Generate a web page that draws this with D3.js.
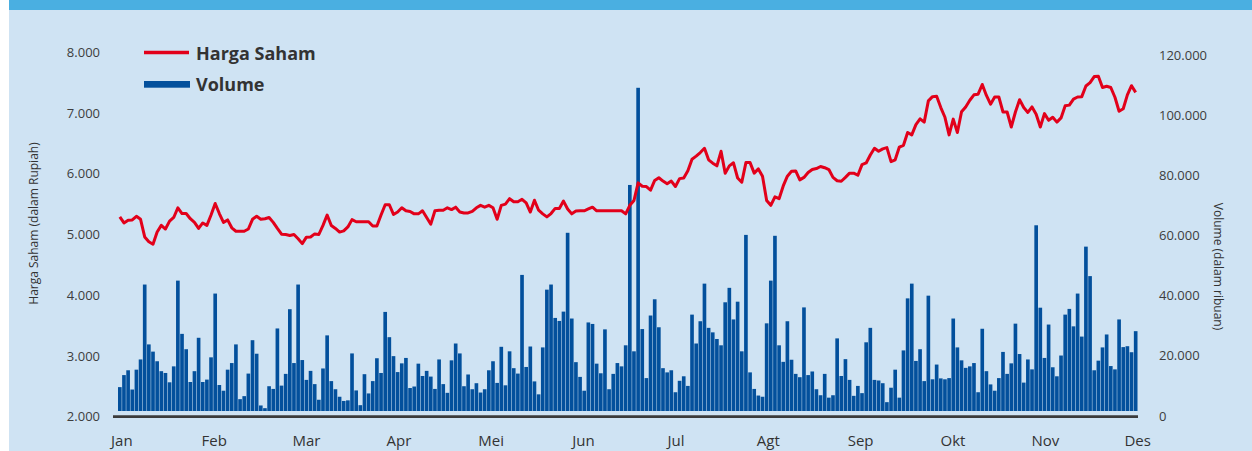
<!DOCTYPE html>
<html>
<head>
<meta charset="utf-8">
<script src="https://cdn.jsdelivr.net/npm/d3@7"></script>
<style>
  body { margin: 0; background: #ffffff; }
  text { font-family: "Open Sans", "DejaVu Sans", sans-serif; }
</style>
</head>
<body>
<div id="chart"></div>
<script>
// data: one price point and one volume bar per trading day

var months = ["Jan", "Feb", "Mar", "Apr", "Mei", "Jun", "Jul", "Agt", "Sep", "Okt", "Nov", "Des"];

// volume, in thousands of the right axis unit
var volume = [
  9.6,13.6,15.2,8.8,15.4,18.8,43.7,23.8,21.4,18.2,14.9,14.3,11.2,16.5,45.0,27.3,22.2,11.3,14.9,26.0,11.3,12.1,19.5,40.7,10.3,8.4,
  15.4,17.6,23.8,5.6,6.6,14.1,25.2,20.7,3.5,2.6,9.9,9.0,29.1,10.1,14.0,35.5,17.6,43.7,18.6,12.0,15.0,10.6,5.4,15.8,26.8,11.6,8.9,6.4,
  5.0,5.2,20.8,8.5,3.6,13.9,7.5,11.6,19.2,14.3,34.6,26.2,19.9,14.6,17.5,19.3,9.3,9.8,17.4,13.3,15.0,13.1,9.0,18.8,10.6,7.7,18.5,
  24.1,20.8,9.9,13.8,8.9,10.9,7.8,8.9,15.2,18.2,11.0,23.0,10.2,21.5,15.9,14.1,46.9,16.3,23.1,11.5,7.2,22.8,42.0,43.7,32.6,31.6,34.7,60.9,
  32.4,17.9,13.0,8.4,31.1,30.6,17.4,14.2,28.8,8.9,14.0,17.6,16.5,23.5,76.8,21.5,109.1,28.9,12.6,33.4,38.8,29.5,15.9,14.5,15.2,7.9,11.7,
  13.2,10.0,33.7,24.1,31.5,44.0,29.3,27.8,25.6,23.5,37.8,42.6,32.1,38.0,21.5,60.2,14.5,9.0,6.8,6.4,30.8,45.0,59.9,23.5,18.0,31.5,18.7,14.0,
  12.9,36.1,13.6,14.8,8.9,6.9,14.0,6.1,6.9,25.8,13.3,18.9,12.0,6.7,10.0,7.6,24.5,29.3,12.0,11.8,10.9,4.6,9.4,15.4,6.1,21.8,39.1,44.0,
  18.3,22.2,11.6,40.0,12.2,17.1,12.5,12.2,12.6,32.4,22.8,18.5,16.0,16.5,17.6,7.9,29.0,14.9,10.5,8.4,12.6,21.3,14.0,17.5,30.7,20.6,11.1,
  18.8,15.5,63.4,36.0,19.3,30.4,16.2,13.2,20.1,33.7,35.6,29.8,40.7,26.4,56.3,46.5,15.2,18.4,22.8,27.1,16.6,15.5,32.1,22.9,23.2,21.2,28.2
];

// share price in Rupiah
var price = [
  5290,5190,5235,5240,5300,5250,4960,4880,4840,5040,5150,5090,5220,5280,5440,5345,5345,5260,5200,5100,5190,5150,5320,5510,5345,5200,5240,
  5110,5054,5054,5054,5090,5250,5300,5250,5260,5280,5200,5100,5005,5000,4985,5000,4930,4850,4956,4960,5010,5000,5150,5320,5148,5100,5040,
  5060,5125,5245,5210,5210,5210,5210,5140,5140,5320,5490,5490,5330,5370,5440,5390,5380,5340,5340,5390,5280,5170,5390,5400,5400,5440,5410,
  5450,5370,5355,5355,5380,5440,5480,5450,5480,5440,5250,5480,5500,5590,5540,5540,5580,5520,5370,5564,5400,5340,5290,5345,5430,5430,5550,5420,
  5340,5385,5390,5390,5420,5450,5390,5390,5390,5390,5390,5390,5390,5340,5480,5560,5850,5795,5790,5730,5890,5935,5880,5835,5880,5790,5920,
  5930,6050,6240,6290,6350,6420,6230,6175,6130,6370,6010,6130,6180,5930,5860,6184,6184,6010,6080,5960,5560,5480,5620,5590,5800,5960,6040,6046,
  5900,5940,6020,6070,6086,6120,6100,6069,5940,5885,5877,5940,6010,6010,5975,6150,6178,6310,6420,6370,6410,6431,6200,6230,6440,6469,6680,
  6640,6810,6905,6850,7200,7270,7275,7090,6930,6640,6900,6680,7020,7100,7210,7300,7310,7470,7290,7145,7264,7264,7017,7017,6770,7017,7220,7090,
  7010,7100,6980,6770,6990,6880,6930,6850,6920,7120,7130,7230,7264,7270,7445,7500,7600,7604,7420,7440,7420,7260,7030,7070,7300,7450,7340
];

var priceTicks = [2000, 3000, 4000, 5000, 6000, 7000, 8000];
var volumeTicks = [0, 20000, 40000, 60000, 80000, 100000, 120000];

const width = 1252;
const height = 451;

// indonesian number format, dot as thousands separator
var fmt = d3.formatLocale({decimal: ",", thousands: ".", grouping: [3], currency: ["Rp", ""]}).format(",");

var svg = d3.select("#chart")
    .append("svg")
    .attr("width", width)
    .attr("height", height)

// panel background and top strip
svg.append("rect")
    .attr("x", 9).attr("y", 0)
    .attr("width", width - 9).attr("height", height)
    .attr("fill", "#cfe3f3")
svg.append("rect")
    .attr("x", 9).attr("y", 0)
    .attr("width", width - 9).attr("height", 10)
    .attr("fill", "#4aafe1")

//scales
var x = d3.scaleBand()
    .domain(d3.range(price.length))
    .range([118, 1137.5])
    .paddingInner(0.12);

var yPrice = d3.scaleLinear()
    .domain([2000, 8000])
    .range([416.7, 52.3]);

var yVol = d3.scaleLinear()
    .domain([0, 120000])
    .range([416, 55]);

var xMonth = d3.scalePoint()
    .domain(months)
    .range([x(0) + x.bandwidth() / 2 + 2, x(price.length - 1) + x.bandwidth() / 2 + 2]);

// bars sit a few pixels above the axis line
var barBase = yVol(0) - 5;

svg.append("g")
    .selectAll("rect")
    .data(volume)
    .enter()
    .append("rect")
    .attr("x", function(d, i){ return x(i); })
    .attr("y", function(d){ return yVol(d * 1000); })
    .attr("width", x.bandwidth())
    .attr("height", function(d){ return barBase - yVol(d * 1000); })
    .attr("fill", "#03509c")

// axis line
svg.append("line")
    .attr("x1", 113).attr("x2", 1138)
    .attr("y1", yPrice(2000)).attr("y2", yPrice(2000))
    .attr("stroke", "#3b3b3b")
    .attr("stroke-width", 2.8)

// price line
var line = d3.line()
    .x(function(d, i){ return x(i) + x.bandwidth() / 2; })
    .y(function(d){ return yPrice(d); });

svg.append("path")
    .datum(price)
    .attr("d", line)
    .attr("fill", "none")
    .attr("stroke", "#e2001a")
    .attr("stroke-width", 3)
    .attr("stroke-linejoin", "round")

// left ticks
svg.append("g")
    .selectAll("text")
    .data(priceTicks)
    .enter()
    .append("text")
    .attr("x", 100)
    .attr("y", function(d){ return yPrice(d); })
    .attr("dy", "0.35em")
    .attr("text-anchor", "end")
    .attr("font-size", 13)
    .attr("fill", "#3d3d3d")
    .text(function(d){ return fmt(d); })

// right ticks
svg.append("g")
    .selectAll("text")
    .data(volumeTicks)
    .enter()
    .append("text")
    .attr("x", 1159)
    .attr("y", function(d){ return yVol(d); })
    .attr("dy", "0.35em")
    .attr("font-size", 13)
    .attr("fill", "#3d3d3d")
    .text(function(d){ return fmt(d); })

// month labels
svg.append("g")
    .selectAll("text")
    .data(months)
    .enter()
    .append("text")
    .attr("x", function(d){ return xMonth(d); })
    .attr("y", 446)
    .attr("text-anchor", "middle")
    .attr("font-size", 15)
    .attr("fill", "#333333")
    .text(function(d){ return d; })

// axis titles
svg.append("text")
    .attr("transform", "translate(38,223.5) rotate(-90)")
    .attr("text-anchor", "middle")
    .attr("font-size", 12)
    .attr("fill", "#333333")
    .text("Harga Saham (dalam Rupiah)")

svg.append("text")
    .attr("transform", "translate(1214,266.5) rotate(90)")
    .attr("text-anchor", "middle")
    .attr("font-size", 12)
    .attr("fill", "#333333")
    .text("Volume (dalam ribuan)")

// legend
var legend = svg.append("g");
legend.append("line")
    .attr("x1", 144).attr("x2", 189)
    .attr("y1", 52.5).attr("y2", 52.5)
    .attr("stroke", "#e2001a")
    .attr("stroke-width", 3.3)
legend.append("text")
    .attr("x", 196).attr("y", 59.5)
    .attr("font-size", 18)
    .attr("font-weight", "bold")
    .attr("fill", "#333333")
    .text("Harga Saham")
legend.append("rect")
    .attr("x", 144).attr("y", 81)
    .attr("width", 46).attr("height", 6.7)
    .attr("fill", "#03509c")
legend.append("text")
    .attr("x", 196).attr("y", 90.5)
    .attr("font-size", 18)
    .attr("font-weight", "bold")
    .attr("fill", "#333333")
    .text("Volume")
</script>
</body>
</html>
